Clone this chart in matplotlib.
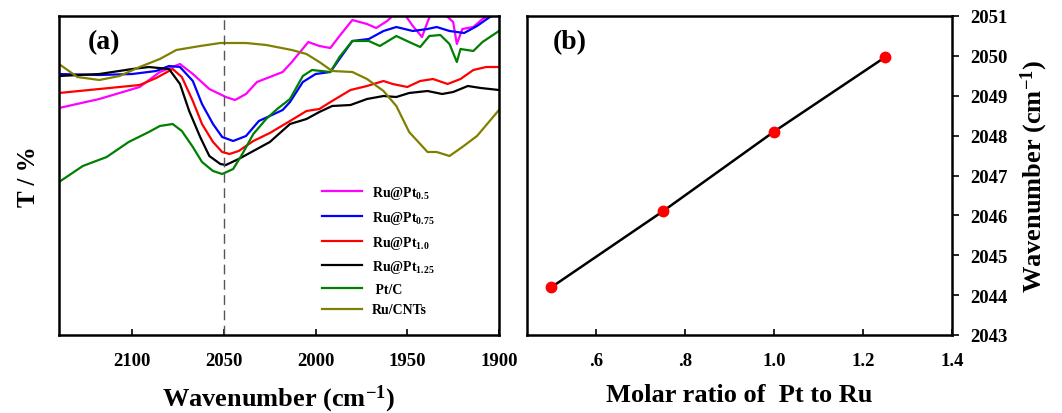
import matplotlib
matplotlib.use("Agg")
import matplotlib.pyplot as plt

plt.rcParams['font.family'] = ['Liberation Serif', 'DejaVu Serif']
plt.rcParams['font.weight'] = 'bold'
plt.rcParams['mathtext.fontset'] = 'custom'
plt.rcParams['mathtext.rm'] = 'Liberation Serif:bold'
plt.rcParams['mathtext.bf'] = 'Liberation Serif:bold'
plt.rcParams['mathtext.default'] = 'rm'

# (a) FTIR spectra, transmittance in arbitrary units
wn_pt05 = [2140, 2118, 2096, 2085, 2074, 2067, 2058, 2049, 2044, 2038, 2032, 2025, 2018,
           2013, 2004, 1998, 1992, 1987, 1980, 1972, 1967, 1961, 1957, 1955, 1952, 1947,
           1942, 1939, 1936, 1928, 1925, 1923, 1920, 1914, 1909, 1905, 1900]
t_pt05 = [227, 236, 248, 263, 271, 261, 246, 238, 235, 241, 253, 258, 263,
          273, 293, 289, 287, 299, 315, 311, 307, 314, 321, 326, 322, 309,
          298, 313, 326, 318, 313, 291, 306, 308, 316, 320, 326]

wn_pt075 = [2140, 2118, 2100, 2087, 2080, 2074, 2067, 2062, 2056, 2051, 2045, 2038, 2031,
            2025, 2018, 2014, 2007, 2000, 1992, 1987, 1980, 1971, 1963, 1956, 1947, 1939,
            1934, 1927, 1919, 1912, 1905, 1900]
t_pt075 = [261, 260, 261, 264, 269, 268, 254, 231, 211, 198, 194, 199, 214,
           219, 225, 233, 253, 261, 263, 276, 294, 296, 304, 308, 304, 306,
           308, 304, 302, 309, 318, 322]

wn_pt10 = [2140, 2118, 2096, 2087, 2078, 2073, 2067, 2062, 2056, 2051, 2047, 2042, 2034,
           2025, 2014, 2005, 1998, 1991, 1981, 1972, 1963, 1958, 1950, 1943, 1936, 1928,
           1921, 1914, 1907, 1900]
t_pt10 = [242, 246, 250, 257, 266, 258, 234, 211, 193, 183, 181, 184, 194,
          202, 214, 224, 226, 234, 245, 249, 254, 251, 248, 254, 256, 251,
          256, 265, 268, 268]

wn_pt125 = [2140, 2118, 2100, 2091, 2080, 2074, 2069, 2063, 2058, 2052, 2049, 2042, 2034,
            2025, 2014, 2005, 1998, 1991, 1981, 1972, 1963, 1956, 1949, 1939, 1931, 1925,
            1917, 1910, 1900]
t_pt125 = [259, 261, 266, 268, 266, 251, 224, 198, 179, 171, 170, 176, 184,
           193, 211, 216, 223, 229, 230, 236, 239, 238, 242, 244, 241, 243,
           249, 247, 245]

wn_ptc = [2140, 2127, 2114, 2102, 2091, 2085, 2078, 2073, 2067, 2062, 2056, 2051, 2045,
          2040, 2034, 2027, 2021, 2014, 2007, 2002, 1992, 1987, 1980, 1971, 1965, 1956,
          1949, 1943, 1938, 1932, 1927, 1923, 1921, 1914, 1909, 1900]
t_ptc = [153, 169, 178, 193, 203, 209, 211, 204, 188, 173, 164, 161, 166,
         181, 201, 216, 226, 236, 259, 265, 263, 278, 294, 294, 289, 299,
         293, 288, 299, 300, 291, 273, 286, 284, 293, 304]

wn_cnt = [2140, 2130, 2118, 2107, 2096, 2085, 2076, 2063, 2052, 2038, 2027, 2013, 2005,
          1998, 1991, 1980, 1972, 1963, 1956, 1949, 1939, 1934, 1927, 1920, 1912, 1900]
t_cnt = [271, 258, 255, 259, 268, 276, 285, 289, 292, 292, 290, 285, 281,
         273, 264, 263, 256, 244, 229, 203, 183, 183, 179, 188, 199, 225]

spectra = [
    (wn_pt05, t_pt05, '#ff00ff', 'Ru@Pt$_{0.5}$'),
    (wn_pt075, t_pt075, '#0000ff', 'Ru@Pt$_{0.75}$'),
    (wn_pt10, t_pt10, '#ff0000', 'Ru@Pt$_{1.0}$'),
    (wn_pt125, t_pt125, '#000000', 'Ru@Pt$_{1.25}$'),
    (wn_ptc, t_ptc, '#008000', ' Pt/C'),
    (wn_cnt, t_cnt, '#808000', 'Ru/CNTs'),
]

# (b) peak position vs molar ratio
ratio = [0.5, 0.75, 1.0, 1.25]
peak_wn = [2044.2, 2046.1, 2048.1, 2049.97]

W, H = 1062, 414
fig = plt.figure(figsize=(W / 100, H / 100), dpi=100)
ax1 = fig.add_axes([59 / W, 78 / H, 440 / W, 319 / H])
ax2 = fig.add_axes([527 / W, 78 / H, 425 / W, 319 / H])

for wn, t, c, lab in spectra:
    ax1.plot(wn, t, color=c, lw=1.6, label=lab)
ax1.axvline(2050, color='#555555', lw=1.0, dashes=(7, 4))
ax1.set_xlim(2140, 1900)
ax1.set_ylim(0, 319)
ax1.set_xticks([2100, 2050, 2000, 1950, 1900])
ax1.set_yticks([])
ax1.tick_params(axis='x', direction='in', length=4, width=1.2, labelsize=13.5, pad=12)
ax1.set_xlabel('Wavenumber (cm$^{-1}$)', fontsize=19, fontweight='bold', labelpad=10)
ax1.set_ylabel('T / %', fontsize=18, fontweight='bold', labelpad=14)
ax1.text(0.065, 0.92, '(a)', transform=ax1.transAxes, fontsize=20, fontweight='bold', va='center')
ax1.legend(loc='upper left', bbox_to_anchor=(0.585, 0.49), frameon=False, fontsize=10,
           handlelength=2.9, labelspacing=0.55, borderaxespad=0, handletextpad=0.7)

ax2.plot(ratio, peak_wn, color='black', lw=1.8, marker='o', markersize=7.5,
         markerfacecolor='red', markeredgecolor='red')
ax2.set_xlim(0.445, 1.4)
ax2.set_ylim(2043, 2051)
ax2.set_xticks([0.6, 0.8, 1.0, 1.2, 1.4])
ax2.set_xticklabels(['.6', '.8', '1.0', '1.2', '1.4'])
ax2.yaxis.tick_right()
ax2.yaxis.set_label_position('right')
ax2.tick_params(axis='x', direction='in', length=4, width=1.2, labelsize=13.5, pad=12)
ax2.tick_params(axis='y', direction='out', length=5, width=1.2, labelsize=13.5, pad=8)
ax2.set_xlabel('Molar ratio of  Pt to Ru', fontsize=19, fontweight='bold', labelpad=10)
ax2.set_ylabel('Wavenumber (cm$^{-1}$)', fontsize=19, fontweight='bold', labelpad=8)
ax2.text(0.06, 0.92, '(b)', transform=ax2.transAxes, fontsize=20, fontweight='bold', va='center')

for ax in (ax1, ax2):
    for s in ax.spines.values():
        s.set_linewidth(1.8)

fig.savefig('out.png', dpi=100)
